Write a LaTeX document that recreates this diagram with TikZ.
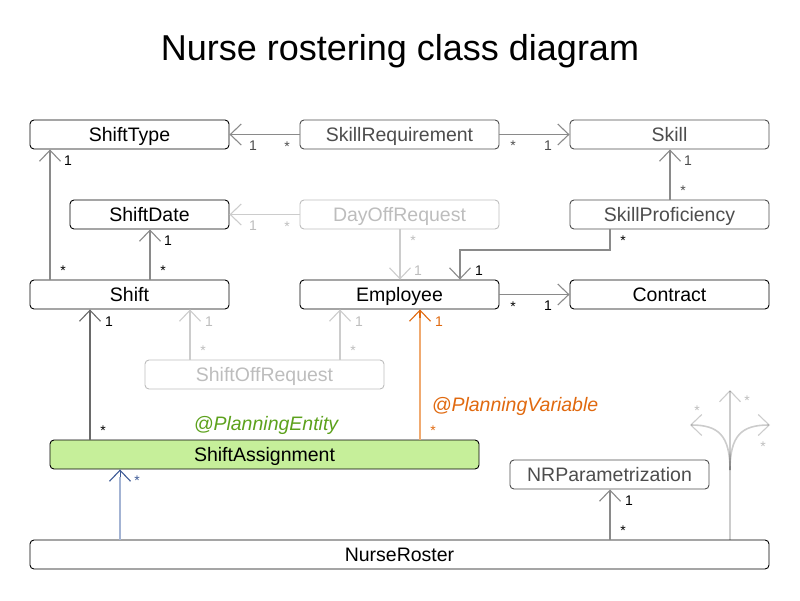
\documentclass[tikz,border=0pt]{standalone}
\usepackage{fontspec}
\setmainfont{Liberation Sans}
\usetikzlibrary{arrows.meta}
\definecolor{dk}{HTML}{4D4D4D}
\definecolor{lt}{HTML}{BDBDBD}
\definecolor{cn}{HTML}{8A8A8A}
\definecolor{cnl}{HTML}{CCCCCC}
\definecolor{cnd}{HTML}{6A6A6A}
\definecolor{org}{HTML}{E0690F}
\definecolor{orgl}{HTML}{F0AA70}
\definecolor{grn}{HTML}{5CA11C}
\definecolor{grnf}{HTML}{C6EF9A}
\definecolor{blu}{HTML}{3E5A96}
\definecolor{blul}{HTML}{A3B3D3}
\tikzset{
  box/.style={draw, rounded corners=4pt, inner sep=0pt, line width=0.9pt,
    text height=14pt, text depth=0pt,
    font=\fontsize{19.5}{22}\selectfont},
  dkbox/.style={box, draw=dk, text=dk},
  ltbox/.style={box, draw=lt, text=lt},
  conn/.style={draw=cn, line width=1.6pt, -{Straight Barb[length=11pt,width=21pt,line width=1.1pt]}},
  mult/.style={anchor=base, inner sep=0pt, font=\fontsize{14}{16}\selectfont},
}
\begin{document}
\begin{tikzpicture}[x=1pt,y=-1pt]
\useasboundingbox (0,0) rectangle (800,600);
\node[font=\fontsize{36}{40}\selectfont] (title) at (400,51) {Nurse rostering class diagram};

% boxes
\node[box, minimum width=199pt, minimum height=29pt] (st) at (129.5,134.5) {ShiftType};
\node[dkbox, minimum width=199pt, minimum height=29pt] (skr) at (399.5,134.5) {SkillRequirement};
\node[dkbox, minimum width=199pt, minimum height=29pt] (sk) at (669.5,134.5) {Skill};
\node[box, minimum width=159pt, minimum height=29pt] (sd) at (149.5,214.5) {ShiftDate};
\node[ltbox, minimum width=199pt, minimum height=29pt] (dor) at (399.5,214.5) {DayOffRequest};
\node[dkbox, minimum width=199pt, minimum height=29pt] (skp) at (669.5,214.5) {SkillProficiency};
\node[box, minimum width=199pt, minimum height=29pt] (sh) at (129.5,294.5) {Shift};
\node[box, minimum width=199pt, minimum height=29pt] (emp) at (399.5,294.5) {Employee};
\node[box, minimum width=199pt, minimum height=29pt] (con) at (669.5,294.5) {Contract};
\node[ltbox, minimum width=239pt, minimum height=29pt] (sor) at (264.5,374.5) {ShiftOffRequest};
\node[box, fill=grnf, minimum width=429pt, minimum height=29pt] (sa) at (264.5,454.5) {ShiftAssignment};
\node[dkbox, minimum width=199pt, minimum height=29pt] (nrp) at (609.5,474.5) {NRParametrization};
\node[box, minimum width=739pt, minimum height=29pt] (nr) at (399.5,554.5) {NurseRoster};

% connectors
\draw[conn] (skr.west) -- (st.east);
\draw[conn] (skr.east) -- (sk.west);
\draw[conn] (50,0 |- sh.north) -- (50,0 |- st.south);
\draw[conn] (150,0 |- sh.north) -- (150,0 |- sd.south);
\draw[conn, draw=cnl] (dor.west) -- (sd.east);
\draw[conn, draw=cnl] (400,0 |- dor.south) -- (400,0 |- emp.north);
\draw[conn] (670,0 |- skp.north) -- (670,0 |- sk.south);
\draw[conn] (610,0 |- skp.south) -- (610,250) -- (460,250) -- (460,0 |- emp.north);
\draw[conn] (emp.east) -- (con.west);
\draw[conn, draw=cnd] (90,0 |- sa.north) -- (90,0 |- sh.south);
\draw[conn, draw=cnl] (190,0 |- sor.north) -- (190,0 |- sh.south);
\draw[conn, draw=cnl] (340,0 |- sor.north) -- (340,0 |- emp.south);
\draw[draw=orgl, line width=1.6pt] (420,0 |- sa.north) -- (420,318);
\draw[conn, draw=org] (420,318) -- (420,0 |- emp.south);
\draw[draw=blul, line width=1.6pt] (120,0 |- nr.north) -- (120,477);
\draw[conn, draw=blu, line width=1pt] (120,477) -- (120,0 |- sa.south);
\draw[conn] (610,0 |- nr.north) -- (610,0 |- nrp.south);

% fork
\coordinate (fk) at (730,470);
\draw[draw=black, draw opacity=0.2, line width=1.6pt] (730,0 |- nr.north) -- (fk);
\draw[conn, draw=black, draw opacity=0.2] (fk) -- (730,390);
\draw[conn, draw=black, draw opacity=0.2] (fk) .. controls (730,435) and (718,425) .. (690,425);
\draw[conn, draw=black, draw opacity=0.2] (fk) .. controls (730,435) and (742,425) .. (770,425);

% annotations
\node[font=\fontsize{19.5}{22}\selectfont\itshape, text=grn, anchor=base] (pe) at (266,430) {@PlanningEntity};
\node[font=\fontsize{19.5}{22}\selectfont\itshape, text=org, anchor=base] (pv) at (515,411) {@PlanningVariable};

% multiplicities
\node[mult, text=dk] at (253,150) {1};
\node[mult, text=dk] at (287,151) {*};
\node[mult] at (68,165) {1};
\node[mult] at (63,275) {*};
\node[mult] at (168,245) {1};
\node[mult] at (163,275) {*};
\node[mult, text=lt] at (253,230) {1};
\node[mult, text=lt] at (287,231) {*};
\node[mult, text=lt] at (413,245) {*};
\node[mult, text=lt] at (418,275) {1};
\node[mult, text=dk] at (513,150) {*};
\node[mult, text=dk] at (548,150) {1};
\node[mult, text=dk] at (688,165) {1};
\node[mult, text=dk] at (683,195) {*};
\node[mult] at (623,245) {*};
\node[mult] at (479,275) {1};
\node[mult] at (513,311) {*};
\node[mult] at (548,310) {1};
\node[mult] at (109,326) {1};
\node[mult] at (103,435) {*};
\node[mult, text=lt] at (209,326) {1};
\node[mult, text=lt] at (203,355) {*};
\node[mult, text=lt] at (359,326) {1};
\node[mult, text=lt] at (353,355) {*};
\node[mult, text=org] at (439,326) {1};
\node[mult, text=org] at (433,435) {*};
\node[mult, text=blu] at (137,485) {*};
\node[mult] at (629,505) {1};
\node[mult] at (623,535) {*};
\node[mult, text=lt] at (697,415) {*};
\node[mult, text=lt] at (747,405) {*};
\node[mult, text=lt] at (763,451) {*};
\end{tikzpicture}
\end{document}
